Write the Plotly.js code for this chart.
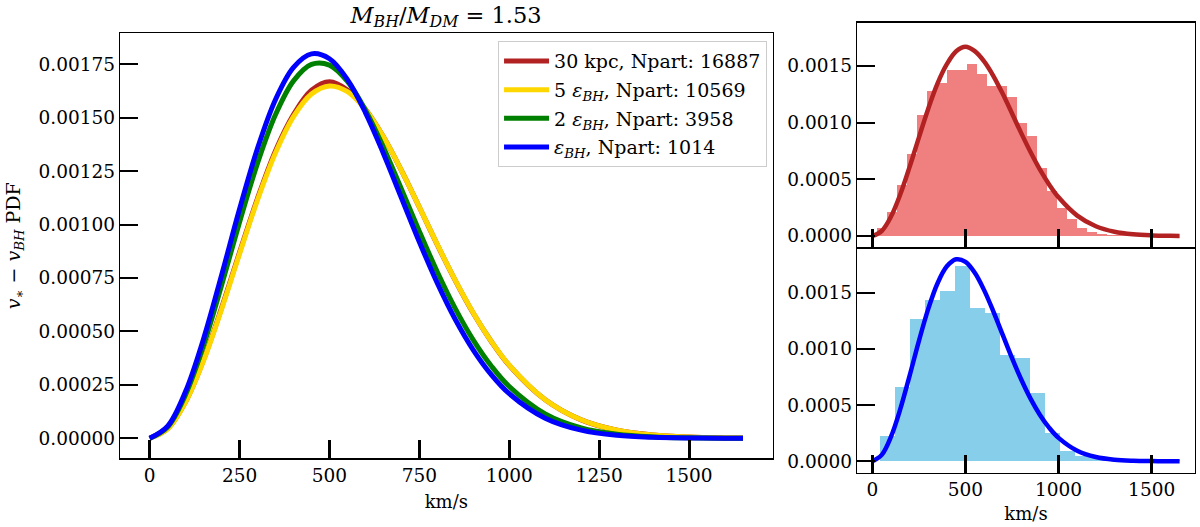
<!DOCTYPE html>
<html><head><meta charset="utf-8">
<script src="https://cdn.plot.ly/plotly-3.0.1.min.js"></script>
<style>html,body{margin:0;padding:0;background:#fff}#chart{width:1200px;height:527px}</style>
</head><body><div id="chart"></div>
<script>
// ---- data ----
const vGrid = [0,50,100,150,200,250,300,350,400,450,500,550,600,650,700,750,800,850,900,950,1000,1100,1200,1300,1400,1500,1600,1650];
const pdf30kpc = [0,0.0000445,0.0001715,0.0003680,0.0006100,0.0008700,0.0011230,0.0013460,0.0015152,0.0016288,0.0016687,0.0016300,0.0015400,0.0014110,0.0012537,0.0010810,0.0009050,0.0007380,0.0005850,0.0004530,0.0003410,0.0001800,0.0000860,0.0000375,0.0000150,0.0000055,0.0000018,0.0000010];
const pdf5eps = [0,0.0000438,0.0001700,0.0003641,0.0006041,0.0008637,0.0011159,0.0013360,0.0015052,0.0016108,0.0016487,0.0016219,0.0015384,0.0014110,0.0012537,0.0010813,0.0009062,0.0007387,0.0005862,0.0004535,0.0003421,0.0001808,0.0000868,0.0000380,0.0000152,0.0000056,0.0000019,0.0000011];
const pdf2eps = [0,0.0000529,0.0002048,0.0004356,0.0007160,0.0010114,0.0012875,0.0015149,0.0016725,0.0017497,0.0017458,0.0016696,0.0015355,0.0013618,0.0011671,0.0009681,0.0007782,0.0006069,0.0004596,0.0003384,0.0002422,0.0001143,0.0000485,0.0000186,0.0000064,0.0000020,0.0000006,0.0000003];
const pdf1eps = [0,0.0000569,0.0002197,0.0004661,0.0007632,0.0010727,0.0013572,0.0015854,0.0017358,0.0017987,0.0017759,0.0016785,0.0015241,0.0013329,0.0011254,0.0009186,0.0007258,0.0005556,0.0004127,0.0002976,0.0002085,0.0000939,0.0000379,0.0000137,0.0000045,0.0000013,0.0000004,0.0000002];

const seriesNames = ['30 kpc, Npart: 16887','5 <i>ε</i><sub><i>BH</i></sub>, Npart: 10569','2 <i>ε</i><sub><i>BH</i></sub>, Npart: 3958','<i>ε</i><sub><i>BH</i></sub>, Npart: 1014'];

const histRedEdges = [25,78.6,132.2,185.8,239.4,293,346.6,400.2,453.8,507.4,561,614.6,668.2,721.8,775.4,829,882.6,936.2,989.8,1043.4,1097,1150.6,1204.2,1257.8,1311.4,1365,1418.6,1472.2,1525.8,1579.4,1633];
const histRedHeights = [0.00007,0.00021,0.00045,0.00072,0.00107,0.00128,0.00135,0.00146,0.00146,0.00152,0.00143,0.00132,0.00132,0.00123,0.00100,0.00088,0.00060,0.00040,0.00025,0.00015,0.00007,0.000035,0.00002,0.00001,0.00001,0.000005,0.000003,0.000002,0,0.000001];
const histBlueEdges = [43,123.4,203.8,284.2,364.6,445,525.4,605.8,686.2,766.6,847,927.4,1007.8,1088.2,1168.6,1249,1329.4,1409.8,1490.2,1570.6,1651];
const histBlueHeights = [0.000228,0.000661,0.001263,0.00144,0.001512,0.001743,0.001366,0.001319,0.000943,0.000919,0.000608,0.000252,0.000089,0.000049,0.000025,0.000012,0.000012,0,0,0.000012];

const xTicksMain = [0,250,500,750,1000,1250,1500];
const yTicksMain = [0,0.00025,0.0005,0.00075,0.001,0.00125,0.0015,0.00175];
const xTicksSide = [0,500,1000,1500];
const yTicksSide = [0,0.0005,0.001,0.0015];

// ---- drawing ----
const F = 'DejaVu Serif';
function centers(e){return e.slice(0,-1).map((v,i)=>(v+e[i+1])/2);}
function widths(e){return e.slice(0,-1).map((v,i)=>e[i+1]-v);}

const colors = ['#B22222','#FFD700','#008000','#0000FF'];
const mainSeries = [pdf30kpc,pdf5eps,pdf2eps,pdf1eps];
const traces = mainSeries.map((ys,i)=>({
  type:'scatter', mode:'lines', x:vGrid, y:ys, name:seriesNames[i],
  line:{color:colors[i], width:5, shape:'spline', smoothing:1}, legendgroup:'g'+i,
  xaxis:'x', yaxis:'y'
}));
traces.push({type:'bar', x:centers(histRedEdges), y:histRedHeights, width:widths(histRedEdges),
  marker:{color:'#F08080', line:{width:0}}, showlegend:false, xaxis:'x2', yaxis:'y2'});
traces.push({type:'scatter', mode:'lines', x:vGrid, y:pdf30kpc, showlegend:false,
  line:{color:'#B22222', width:4.5, shape:'spline', smoothing:1}, xaxis:'x2', yaxis:'y2'});
traces.push({type:'bar', x:centers(histBlueEdges), y:histBlueHeights, width:widths(histBlueEdges),
  marker:{color:'#87CEEB', line:{width:0}}, showlegend:false, xaxis:'x3', yaxis:'y3'});
traces.push({type:'scatter', mode:'lines', x:vGrid, y:pdf1eps, showlegend:false,
  line:{color:'#0000FF', width:4.5, shape:'spline', smoothing:1}, xaxis:'x3', yaxis:'y3'});

const base = {showgrid:false, zeroline:false, showline:true, mirror:true, linecolor:'#000', linewidth:1.3,
  ticks:'inside', ticklen:18, tickcolor:'#000', tickfont:{family:F,size:18.5,color:'#000'}};

const layout = {
  width:1200, height:527, margin:{l:0,r:0,t:0,b:0}, paper_bgcolor:'#fff', plot_bgcolor:'#fff',
  font:{family:F, color:'#000'}, bargap:0,
  title:{text:'<i>M</i><sub><i>BH</i></sub>/<i>M</i><sub><i>DM</i></sub> = 1.53', font:{family:F,size:22.5,color:'#000'},
    x:0.3717, xanchor:'center', y:0.972, yanchor:'middle', xref:'paper', yref:'paper'},
  xaxis:Object.assign({}, base, {domain:[0.1,0.6439], range:[-82.5,1732.5], tickvals:xTicksMain, tickwidth:3,
    anchor:'y', title:{text:'km/s', font:{family:F,size:18,color:'#000'}, standoff:10}}),
  yaxis:Object.assign({}, base, {domain:[0.1304,0.9368], range:[-0.0000936,0.001895], tickvals:yTicksMain, tickformat:'.5f', tickwidth:2,
    anchor:'x', title:{text:'<i>v</i><sub>∗</sub> − <i>v</i><sub><i>BH</i></sub> PDF', font:{family:F,size:19,color:'#000'}, standoff:12}}),
  xaxis2:Object.assign({}, base, {domain:[0.7142,0.9958], range:[-82.5,1732.5], tickvals:xTicksSide, tickwidth:3, showticklabels:false, anchor:'y2'}),
  yaxis2:Object.assign({}, base, {domain:[0.5307,0.9569], range:[-0.0000997,0.001881], tickvals:yTicksSide, tickformat:'.4f', tickwidth:2, anchor:'x2'}),
  xaxis3:Object.assign({}, base, {domain:[0.7142,0.9958], range:[-82.5,1732.5], tickvals:xTicksSide, tickwidth:3, anchor:'y3',
    title:{text:'km/s', font:{family:F,size:18,color:'#000'}, standoff:8}}),
  yaxis3:Object.assign({}, base, {domain:[0.1030,0.5283], range:[-0.000102,0.001894], tickvals:yTicksSide, tickformat:'.4f', tickwidth:2, anchor:'x3'}),
  legend:{x:0.6392, y:0.922, xanchor:'right', yanchor:'top', bgcolor:'rgba(255,255,255,0.85)', bordercolor:'#cccccc', borderwidth:1,
    font:{family:F,size:19,color:'#000'}, traceorder:'grouped', tracegroupgap:1, itemwidth:45},
  showlegend:true
};
Plotly.newPlot('chart', traces, layout, {displayModeBar:false, staticPlot:true});
</script></body></html>
